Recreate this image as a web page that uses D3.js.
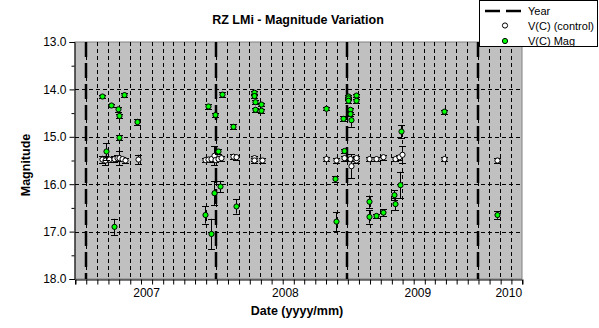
<!DOCTYPE html>
<html><head><meta charset="utf-8">
<script src="https://cdn.jsdelivr.net/npm/d3@7"></script>
<style>
html,body{margin:0;padding:0;background:#fff;}
svg{display:block;font-family:"Liberation Sans",Arial,sans-serif;}
</style></head>
<body>
<svg id="c" width="599" height="328"></svg>
<script>
// ---- data ----
const controlDates = ["2006-08-15","2006-08-24","2006-09-03","2006-09-17","2006-09-26","2006-10-03","2006-10-10","2006-10-19","2006-11-23",
 "2007-05-29","2007-06-08","2007-06-17","2007-06-24","2007-06-26","2007-07-05","2007-07-15","2007-08-17","2007-08-26","2007-10-14","2007-10-14","2007-11-05",
 "2008-05-02","2008-05-30","2008-06-21","2008-07-08","2008-07-12","2008-07-26","2008-07-26","2008-08-31","2008-09-19","2008-10-09","2008-11-12","2008-11-23","2008-11-30",
 "2009-03-28","2009-08-22"];
const controlMag = [15.48,15.50,15.48,15.47,15.45,15.45,15.47,15.50,15.48,
 15.49,15.48,15.47,15.40,15.49,15.47,15.45,15.42,15.43,15.45,15.50,15.50,
 15.47,15.50,15.45,15.47,15.62,15.50,15.45,15.47,15.47,15.43,15.47,15.43,15.38,
 15.47,15.50];
const controlErr = [0.08,0.10,0.06,0.06,0.06,0.15,0.05,0.06,0.10,
 0.05,0.05,0.05,0.20,0.05,0.05,0.05,0.05,0.05,0.05,0.05,0.05,
 0.05,0.05,0.05,0.05,0.25,0.05,0.05,0.05,0.05,0.05,0.05,0.05,0.18,
 0.05,0.05];

const magDates = ["2006-08-15","2006-08-27","2006-09-09","2006-09-19","2006-09-30","2006-10-01","2006-10-02","2006-10-16","2006-11-22",
 "2007-05-29","2007-06-07","2007-06-15","2007-06-23","2007-06-28","2007-07-05","2007-07-10","2007-07-16","2007-08-17","2007-08-25",
 "2007-10-14","2007-10-14","2007-10-17","2007-10-17","2007-11-04","2007-11-04",
 "2008-05-02","2008-05-27","2008-05-30","2008-06-20","2008-06-22","2008-07-03","2008-07-03","2008-07-04","2008-07-08","2008-07-08","2008-07-11","2008-07-24","2008-07-26",
 "2008-08-31","2008-08-31","2008-09-19","2008-10-09","2008-11-09","2008-11-12","2008-11-26","2008-11-29",
 "2009-03-28","2009-08-22"];
const magValues = [14.15,15.31,14.34,16.90,14.42,14.56,15.02,14.12,14.69,
 16.65,14.36,17.05,16.19,14.54,15.31,16.05,14.11,14.79,16.47,
 14.07,14.14,14.27,14.43,14.32,14.45,
 14.41,15.89,16.79,14.62,15.30,14.15,14.19,14.24,14.43,14.52,14.65,14.13,14.24,
 16.37,16.69,16.67,16.60,16.23,16.42,16.02,14.89,
 14.47,16.65];
const magErr = [0.04,0.18,0.04,0.17,0.05,0.05,0.05,0.05,0.07,
 0.18,0.05,0.32,0.25,0.05,0.05,0.12,0.05,0.05,0.15,
 0.04,0.04,0.04,0.04,0.04,0.04,
 0.03,0.06,0.20,0.05,0.04,0.04,0.04,0.04,0.04,0.04,0.14,0.04,0.04,
 0.13,0.14,0.05,0.07,0.10,0.13,0.28,0.14,
 0.04,0.08];

const yearLineDates = ["2006-07-01","2007-07-01","2008-07-01","2009-07-01"];
const xLabels = ["2007","2008","2009","2010"];
const xLabelDates = ["2006-12-18","2008-01-10","2009-01-14","2009-09-25"];
const yTicks = [13,14,15,16,17,18];
const yMinorTicks = [13.5,14.5,15.5,16.5,17.5];
const xDomain = ["2006-06-01","2009-11-01"];
const yDomain = [13,18];
const legendLabels = ["Year","V(C) (control)","V(C) Mag"];
const titleText = "RZ LMi - Magnitude Variation";
const xTitle = "Date (yyyy/mm)";
const yTitle = "Magnitude";

// ---- layout ----
const parse = d3.utcParse("%Y-%m-%d");
const L = 75, R = 522, T = 42, B = 279;
const GREEN = "#00ff00", GRAY = "#c0c0c0";
const MR = 2.6;
const svg = d3.select("#c");

const x = d3.scaleUtc().domain(xDomain.map(parse)).range([L, R]);
const y = d3.scaleLinear().domain(yDomain).range([T, B]);

// plot area
svg.append("rect").attr("x", L).attr("y", T).attr("width", R - L).attr("height", B - T)
  .attr("fill", GRAY).attr("stroke", "#808080").attr("stroke-width", 1);

const months = d3.utcMonth.range(x.domain()[0], d3.utcDay.offset(x.domain()[1], 1));
// vertical gridlines
svg.append("g").selectAll("line").data(months.filter(d => x(d) > L + 1 && x(d) < R - 1)).join("line")
  .attr("x1", d => Math.round(x(d)) + 0.5).attr("x2", d => Math.round(x(d)) + 0.5)
  .attr("y1", T).attr("y2", B)
  .attr("stroke", "#000").attr("stroke-width", 1).attr("stroke-dasharray", "4,3");
// horizontal gridlines
svg.append("g").selectAll("line").data(yTicks.filter(v => v > 13 && v < 18)).join("line")
  .attr("x1", L).attr("x2", R)
  .attr("y1", d => Math.round(y(d)) + 0.5).attr("y2", d => Math.round(y(d)) + 0.5)
  .attr("stroke", "#000").attr("stroke-width", 1).attr("stroke-dasharray", "4,3");

// year lines
svg.append("g").selectAll("line").data(yearLineDates.map(parse)).join("line")
  .attr("x1", d => Math.round(x(d))).attr("x2", d => Math.round(x(d)))
  .attr("y1", T).attr("y2", B)
  .attr("stroke", "#000").attr("stroke-width", 2.5).attr("stroke-dasharray", "15,6");

// axes
const yAxis = d3.axisLeft(y).tickValues(yTicks).tickFormat(d3.format(".1f")).tickSize(5).tickPadding(3);
const gy = svg.append("g").attr("transform", `translate(${L - 0.5},0)`).call(yAxis);
gy.select(".domain").attr("stroke", "#000");
gy.selectAll("text").attr("font-size", 12).attr("fill", "#000").attr("font-family", "Liberation Sans, Arial, sans-serif");
svg.append("g").attr("transform", `translate(${L - 0.5},0)`)
  .call(d3.axisLeft(y).tickValues(yMinorTicks).tickSize(3).tickFormat(""))
  .select(".domain").remove();

const xAxis = d3.axisBottom(x).tickValues(months).tickSize(5).tickFormat("");
const gx = svg.append("g").attr("transform", `translate(0,${B + 0.5})`).call(xAxis);
gx.select(".domain").attr("stroke", "#000");
gx.selectAll(".tick line").attr("transform", "translate(0.5,0)");

svg.append("g").selectAll("text").data(xLabels).join("text")
  .attr("x", (d, i) => x(parse(xLabelDates[i]))).attr("y", 297)
  .attr("text-anchor", "middle").attr("font-size", 12).attr("fill", "#000").text(d => d);

// error bars + markers
function series(dates, vals, errs, fill) {
  const data = dates.map((d, i) => ({ t: parse(d), v: vals[i], e: errs[i] }));
  const g = svg.append("g");
  const eb = g.append("g").attr("stroke", "#000").attr("stroke-width", 1);
  eb.selectAll("line.v").data(data).join("line").attr("class", "v")
    .attr("x1", d => Math.round(x(d.t)) + 0.5).attr("x2", d => Math.round(x(d.t)) + 0.5)
    .attr("y1", d => y(d.v - d.e)).attr("y2", d => y(d.v + d.e));
  eb.selectAll("line.t").data(data).join("line").attr("class", "t")
    .attr("x1", d => Math.round(x(d.t)) - 3).attr("x2", d => Math.round(x(d.t)) + 4)
    .attr("y1", d => Math.round(y(d.v - d.e)) + 0.5).attr("y2", d => Math.round(y(d.v - d.e)) + 0.5);
  eb.selectAll("line.b").data(data).join("line").attr("class", "b")
    .attr("x1", d => Math.round(x(d.t)) - 3).attr("x2", d => Math.round(x(d.t)) + 4)
    .attr("y1", d => Math.round(y(d.v + d.e)) + 0.5).attr("y2", d => Math.round(y(d.v + d.e)) + 0.5);
  g.selectAll("circle").data(data).join("circle")
    .attr("cx", d => Math.round(x(d.t)) + 0.5).attr("cy", d => y(d.v)).attr("r", MR)
    .attr("fill", fill).attr("stroke", "#000").attr("stroke-width", 1);
}
series(controlDates, controlMag, controlErr, "#fff");
series(magDates, magValues, magErr, GREEN);

// titles
svg.append("text").attr("x", 298).attr("y", 24).attr("text-anchor", "middle")
  .attr("font-size", 12.5).attr("font-weight", "bold").text(titleText);
svg.append("text").attr("x", 297).attr("y", 315).attr("text-anchor", "middle")
  .attr("font-size", 12.5).attr("font-weight", "bold").text(xTitle);
svg.append("text").attr("transform", "translate(30,165) rotate(-90)").attr("text-anchor", "middle")
  .attr("font-size", 12.5).attr("font-weight", "bold").text(yTitle);

// legend
const lg = svg.append("g");
lg.append("rect").attr("x", 479.5).attr("y", 0.5).attr("width", 118).attr("height", 46)
  .attr("fill", "#fff").attr("stroke", "#000");
lg.append("line").attr("x1", 485).attr("x2", 521).attr("y1", 11).attr("y2", 11)
  .attr("stroke", "#000").attr("stroke-width", 2.5).attr("stroke-dasharray", "15,6");
lg.append("circle").attr("cx", 505).attr("cy", 25.5).attr("r", MR).attr("fill", "#fff").attr("stroke", "#000");
lg.append("circle").attr("cx", 505).attr("cy", 41).attr("r", MR).attr("fill", GREEN).attr("stroke", "#000");
lg.selectAll("text").data(legendLabels).join("text")
  .attr("x", 528).attr("y", (d, i) => 15 + i * 15)
  .attr("font-size", 11).attr("fill", "#000").text(d => d);
</script>
</body></html>
